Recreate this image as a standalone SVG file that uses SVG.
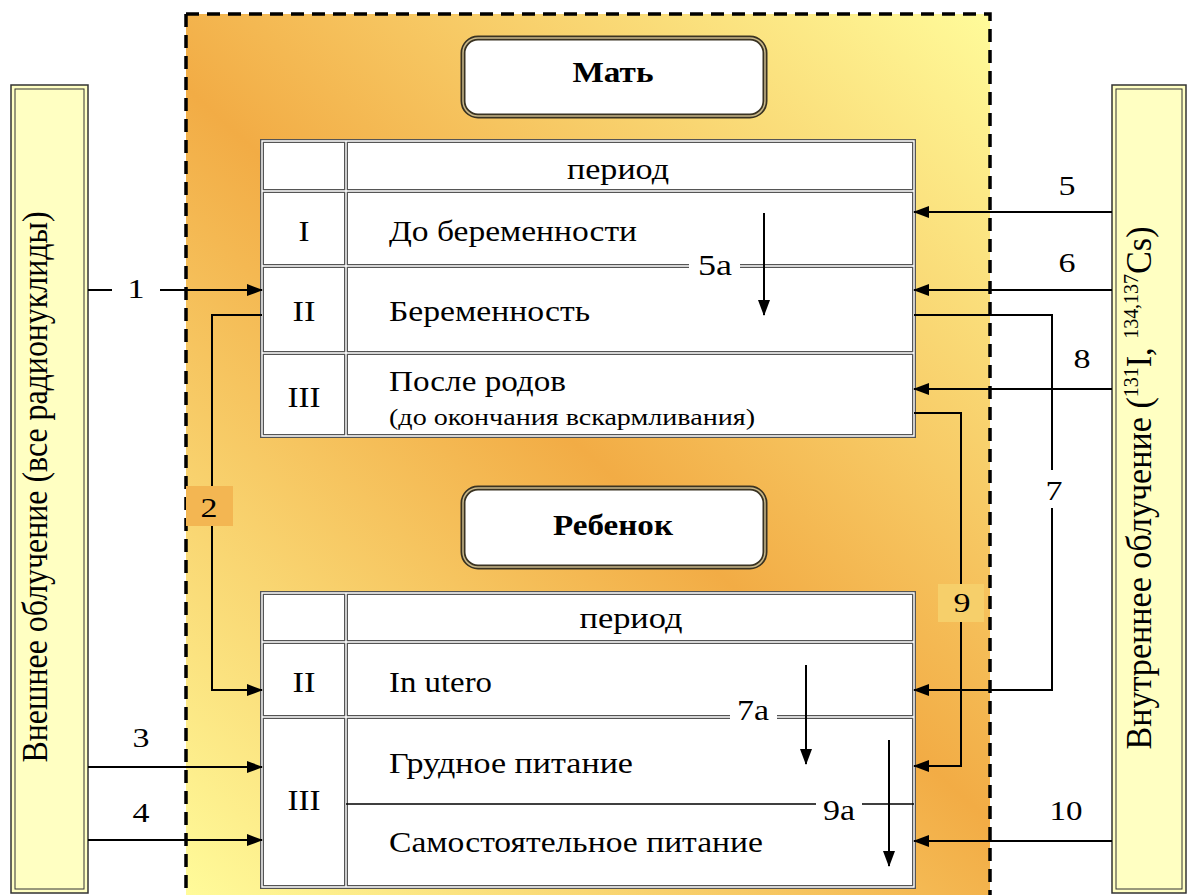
<svg xmlns="http://www.w3.org/2000/svg" width="1188" height="895" viewBox="0 0 1188 895" font-family="'Liberation Serif', 'Times New Roman', serif">
<defs>
<linearGradient id="bg" gradientUnits="userSpaceOnUse" x1="990" y1="14" x2="186" y2="895">
<stop offset="0" stop-color="#FFFB9A"/>
<stop offset="0.5" stop-color="#F2AC45"/>
<stop offset="1" stop-color="#FFFB9A"/>
</linearGradient>
<marker id="ah" markerWidth="16" markerHeight="12" refX="15" refY="6" orient="auto" markerUnits="userSpaceOnUse">
<path d="M0,0 L16,6 L0,12 Z" fill="#000"/>
</marker>
<style>
.t{font-size:29px}
.s{font-size:24px}
.n{font-size:28px}
.h{font-size:29px;font-weight:bold}
.c{stroke:#000;stroke-width:2;fill:none}
.ca{stroke:#000;stroke-width:2;fill:none;marker-end:url(#ah)}
.d1{stroke:#555;stroke-width:4;fill:none}
.d2{stroke:#fff;stroke-width:1.4;fill:none}
.bar{fill:#FFFFC2;stroke:#333;stroke-width:1.5}
.bar2{fill:none;stroke:#333;stroke-width:1}
.rb{fill:#fff;stroke:#3a3322;stroke-width:5}
.rb2{fill:none;stroke:#c9b88a;stroke-width:1.5}
</style>
</defs>
<rect x="0" y="0" width="1188" height="895" fill="#fff"/>
<g id="area">
<rect x="186" y="14" width="804" height="890" fill="url(#bg)"/>
<path d="M186,14 H990 V895 M186,14 V895" fill="none" stroke="#000" stroke-width="3.5" stroke-dasharray="13,8"/>
</g>
<g id="ext">
<rect class="bar" x="11" y="85" width="77" height="808"/>
<rect class="bar2" x="15" y="89" width="69" height="800"/>
<text class="t" transform="translate(47,487) scale(1.2,1) rotate(-90)" text-anchor="middle" textLength="551" lengthAdjust="spacingAndGlyphs">Внешнее облучение (все радионуклиды)</text>
</g>
<g id="int">
<rect class="bar" x="1112" y="85" width="74" height="808"/>
<rect class="bar2" x="1116" y="89" width="66" height="800"/>
<text class="t" transform="translate(1151,488) scale(1.2,1) rotate(-90)" text-anchor="middle" textLength="523" lengthAdjust="spacingAndGlyphs">Внутреннее облучение (<tspan font-size="17" dy="-11">131</tspan><tspan dy="11">I,  </tspan><tspan font-size="17" dy="-11">134,137</tspan><tspan dy="11">Cs)</tspan></text>
</g>
<g id="mother">
<rect class="rb" x="463" y="38" width="302" height="78" rx="15"/>
<rect class="rb2" x="463" y="38" width="302" height="78" rx="15"/>
<text class="h" x="613" y="82" text-anchor="middle" textLength="81" lengthAdjust="spacingAndGlyphs">Мать</text>
</g>
<g id="mtable">
<rect x="262" y="141" width="652" height="295" fill="#fff"/>
<path class="d1" d="M262,141 H914 V436 H262 Z M346,141 V436 M262,191 H914 M262,266 H346 M346,266 H689 M740,266 H914 M262,353 H914"/>
<path class="d2" d="M262,141 H914 V436 H262 Z M346,141 V436 M262,191 H914 M262,266 H346 M346,266 H689 M740,266 H914 M262,353 H914"/>
<text class="t" x="618" y="179" text-anchor="middle" textLength="102" lengthAdjust="spacingAndGlyphs">период</text>
<text class="t" x="304" y="241" text-anchor="middle" textLength="11" lengthAdjust="spacingAndGlyphs">I</text>
<text class="t" x="389" y="241" textLength="248" lengthAdjust="spacingAndGlyphs">До беременности</text>
<text class="t" x="304" y="321" text-anchor="middle" textLength="23" lengthAdjust="spacingAndGlyphs">II</text>
<text class="t" x="389" y="321" textLength="201" lengthAdjust="spacingAndGlyphs">Беременность</text>
<text class="t" x="304" y="407" text-anchor="middle" textLength="33" lengthAdjust="spacingAndGlyphs">III</text>
<text class="t" x="389" y="391" textLength="177" lengthAdjust="spacingAndGlyphs">После родов</text>
<text class="s" x="389" y="425" textLength="366" lengthAdjust="spacingAndGlyphs">(до окончания вскармливания)</text>
<text class="t" x="715" y="275" text-anchor="middle" textLength="34" lengthAdjust="spacingAndGlyphs">5а</text>
<path class="ca" d="M764,213 V315"/>
</g>
<g id="child">
<rect class="rb" x="463" y="488" width="302" height="79" rx="15"/>
<rect class="rb2" x="463" y="488" width="302" height="79" rx="15"/>
<text class="h" x="613" y="535" text-anchor="middle" textLength="120" lengthAdjust="spacingAndGlyphs">Ребенок</text>
</g>
<g id="ctable">
<rect x="262" y="593" width="652" height="294" fill="#fff"/>
<path class="d1" d="M262,593 H914 V887 H262 Z M346,593 V887 M262,642 H914 M262,717 H346 M346,717 H730 M777,717 H914"/>
<path class="d2" d="M262,593 H914 V887 H262 Z M346,593 V887 M262,642 H914 M262,717 H346 M346,717 H730 M777,717 H914"/>
<path d="M346,804 H816 M862,804 H914" stroke="#000" stroke-width="1.5" fill="none"/>
<text class="t" x="631" y="628" text-anchor="middle" textLength="103" lengthAdjust="spacingAndGlyphs">период</text>
<text class="t" x="304" y="692" text-anchor="middle" textLength="23" lengthAdjust="spacingAndGlyphs">II</text>
<text class="t" x="304" y="810" text-anchor="middle" textLength="33" lengthAdjust="spacingAndGlyphs">III</text>
<text class="t" x="389" y="692" textLength="103" lengthAdjust="spacingAndGlyphs">In utero</text>
<text class="t" x="389" y="773" textLength="244" lengthAdjust="spacingAndGlyphs">Грудное питание</text>
<text class="t" x="389" y="852" textLength="374" lengthAdjust="spacingAndGlyphs">Самостоятельное питание</text>
<text class="t" x="753" y="720" text-anchor="middle" textLength="32" lengthAdjust="spacingAndGlyphs">7а</text>
<text class="t" x="839" y="820" text-anchor="middle" textLength="32" lengthAdjust="spacingAndGlyphs">9а</text>
<path class="ca" d="M806,665 V764"/>
<path class="ca" d="M889,740 V866"/>
</g>
<g id="connectors">
<path class="c" d="M88,290 H112"/>
<path class="ca" d="M160,290 H262"/>
<text class="n" x="136" y="298" text-anchor="middle" textLength="17" lengthAdjust="spacingAndGlyphs">1</text>
<path class="ca" d="M262,315 H212 V690 H262"/>
<rect x="186" y="486" width="47" height="40" fill="#F3B652"/>
<text class="n" x="209" y="517" text-anchor="middle" textLength="17" lengthAdjust="spacingAndGlyphs">2</text>
<path class="ca" d="M88,767 H262"/>
<text class="n" x="141" y="747" text-anchor="middle" textLength="17" lengthAdjust="spacingAndGlyphs">3</text>
<path class="ca" d="M88,840 H262"/>
<text class="n" x="141" y="822" text-anchor="middle" textLength="17" lengthAdjust="spacingAndGlyphs">4</text>
<path class="ca" d="M1112,212 H914"/>
<text class="n" x="1067" y="195" text-anchor="middle" textLength="17" lengthAdjust="spacingAndGlyphs">5</text>
<path class="ca" d="M1112,290 H914"/>
<text class="n" x="1067" y="272" text-anchor="middle" textLength="17" lengthAdjust="spacingAndGlyphs">6</text>
<path class="ca" d="M914,315 H1052 V690 H914"/>
<rect x="1040" y="470" width="26" height="38" fill="#fff"/>
<text class="n" x="1054" y="500" text-anchor="middle" textLength="17" lengthAdjust="spacingAndGlyphs">7</text>
<path class="ca" d="M1112,389 H914"/>
<rect x="1068" y="346" width="30" height="28" fill="#fff"/>
<text class="n" x="1082" y="368" text-anchor="middle" textLength="17" lengthAdjust="spacingAndGlyphs">8</text>
<path class="ca" d="M914,413 H961 V766 H914"/>
<rect x="938" y="584" width="46" height="38" fill="#F6CF6A"/>
<text class="n" x="962" y="612" text-anchor="middle" textLength="17" lengthAdjust="spacingAndGlyphs">9</text>
<path class="ca" d="M1112,841 H914"/>
<text class="n" x="1066" y="820" text-anchor="middle" textLength="33" lengthAdjust="spacingAndGlyphs">10</text>
</g>
</svg>
